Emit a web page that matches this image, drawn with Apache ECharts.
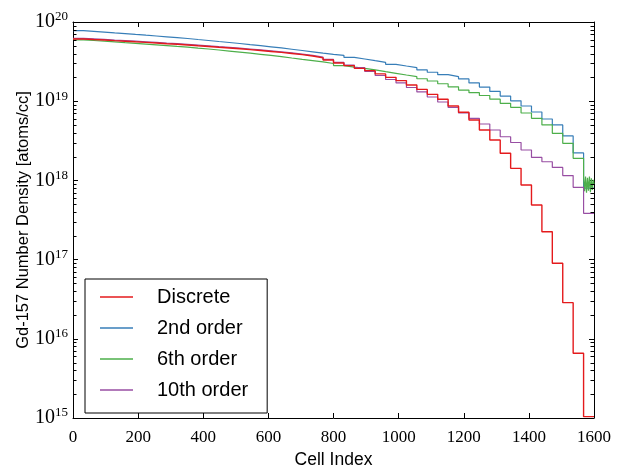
<!DOCTYPE html>
<html><head><meta charset="utf-8">
<script src="https://cdn.jsdelivr.net/npm/echarts@6/dist/echarts.min.js"></script>
<style>html,body{margin:0;padding:0;background:#fff}#c{width:621px;height:466px}</style>
</head><body><div id="c"></div>
<script>
// ---- data (one value per group of 32 cells) ----
const cellsPerGroup = 32;
const xTicks = [0, 200, 400, 600, 800, 1000, 1200, 1400, 1600];
const yDecades = [15, 16, 17, 18, 19, 20];
const seriesNames = ['Discrete', '2nd order', '6th order', '10th order'];

const discrete = [
  6.10e19, 6.01e19, 5.93e19, 5.82e19, 5.72e19, 5.62e19, 5.53e19, 5.43e19, 5.32e19, 5.23e19,
  5.12e19, 5.01e19, 4.91e19, 4.79e19, 4.70e19, 4.59e19, 4.48e19, 4.37e19, 4.25e19, 4.13e19,
  4.00e19, 3.87e19, 3.72e19, 3.53e19, 3.31e19, 3.04e19, 2.81e19, 2.60e19, 2.43e19, 2.21e19,
  2.00e19, 1.82e19, 1.60e19, 1.41e19, 1.22e19, 1.06e19, 8.70e18, 7.24e18, 5.79e18, 4.33e18,
  3.24e18, 2.20e18, 1.42e18, 8.75e17, 4.89e17, 2.25e17, 8.98e16, 2.86e16, 6.56e15, 1.04e15
];
const order2 = [
  7.77e19, 7.61e19, 7.46e19, 7.28e19, 7.14e19, 6.97e19, 6.81e19, 6.66e19, 6.50e19, 6.35e19,
  6.19e19, 6.01e19, 5.84e19, 5.67e19, 5.51e19, 5.35e19, 5.18e19, 5.02e19, 4.86e19, 4.70e19,
  4.53e19, 4.37e19, 4.20e19, 4.04e19, 3.91e19, 3.80e19, 3.58e19, 3.41e19, 3.25e19, 3.10e19,
  2.92e19, 2.78e19, 2.65e19, 2.48e19, 2.32e19, 2.16e19, 2.04e19, 1.91e19, 1.70e19, 1.51e19,
  1.33e19, 1.16e19, 1.01e19, 8.70e18, 7.31e18, 5.96e18, 5.01e18, 3.64e18, 2.22e18, 8.0e17
];
const order6 = [
  5.93e19, 5.84e19, 5.72e19, 5.61e19, 5.49e19, 5.38e19, 5.27e19, 5.15e19, 5.04e19, 4.92e19,
  4.81e19, 4.68e19, 4.56e19, 4.43e19, 4.30e19, 4.17e19, 4.04e19, 3.91e19, 3.78e19, 3.65e19,
  3.51e19, 3.38e19, 3.26e19, 3.13e19, 2.99e19, 2.82e19, 2.70e19, 2.59e19, 2.48e19, 2.36e19,
  2.25e19, 2.14e19, 2.04e19, 1.92e19, 1.80e19, 1.66e19, 1.52e19, 1.38e19, 1.28e19, 1.18e19,
  1.06e19, 9.41e18, 8.38e18, 7.10e18, 6.08e18, 5.01e18, 3.93e18, 2.94e18, 1.90e18
];
// last group of the 6th-order curve oscillates strongly (cells 1568..1600, read every 3 cells)
const order6TailCells = [1568, 1571, 1574, 1577, 1580, 1583, 1586, 1589, 1592, 1595, 1598, 1600];
const order6TailVals = [1.10e18, 7.3e17, 1.12e18, 7.0e17, 1.08e18, 7.4e17, 1.12e18, 7.1e17, 1.06e18, 7.6e17, 1.02e18, 9.0e17];
const order10 = [
  6.20e19, 6.12e19, 6.03e19, 5.92e19, 5.82e19, 5.72e19, 5.62e19, 5.52e19, 5.41e19, 5.32e19,
  5.21e19, 5.10e19, 4.99e19, 4.88e19, 4.78e19, 4.67e19, 4.56e19, 4.45e19, 4.33e19, 4.20e19,
  4.07e19, 3.94e19, 3.79e19, 3.60e19, 3.37e19, 3.10e19, 2.86e19, 2.65e19, 2.37e19, 2.11e19,
  1.88e19, 1.70e19, 1.49e19, 1.31e19, 1.13e19, 9.77e18, 8.33e18, 7.10e18, 6.08e18, 5.15e18,
  4.33e18, 3.56e18, 3.01e18, 2.42e18, 1.95e18, 1.72e18, 1.46e18, 1.15e18, 8.18e17, 3.84e17
];

const colors = ['#e41a1c', '#377eb8', '#4daf4a', '#984ea3'];

function stepData(vals) {
  const d = vals.map((v, k) => [k * cellsPerGroup, v]);
  d.push([vals.length * cellsPerGroup, vals[vals.length - 1]]);
  return d;
}
function stepDataWithTail(vals, tailCells, tailVals) {
  const d = vals.map((v, k) => [k * cellsPerGroup, v]);
  tailCells.forEach((c, i) => d.push([c, tailVals[i]]));
  return d;
}

const serif = 'Liberation Serif';
const sans = 'Liberation Sans';
const chart = echarts.init(document.getElementById('c'), null, {renderer: 'canvas'});

function lineSeries(name, data, color, z, w) {
  return {
    name: name, type: 'line', step: 'end', data: data,
    showSymbol: false, symbol: 'none', z: z, animation: false,
    lineStyle: {color: color, width: w}, itemStyle: {color: color}
  };
}

chart.setOption({
  animation: false,
  backgroundColor: '#fff',
  grid: {left: 73, right: 27, top: 22, bottom: 48, show: false, containLabel: false, outerBoundsMode: 'none'},
  legend: {
    data: seriesNames, orient: 'vertical', left: 85, top: 279,
    icon: 'rect', itemWidth: 33, itemHeight: 1.5, itemGap: 11,
    padding: [8, 19, 13, 15],
    borderColor: '#000', borderWidth: 1, borderRadius: 0, backgroundColor: '#fff',
    textStyle: {fontFamily: sans, fontSize: 20, color: '#000', padding: [0, 0, 0, 19], lineHeight: 20},
    selectedMode: false
  },
  xAxis: [{
    type: 'value', min: 0, max: 1600, interval: 200,
    name: 'Cell Index', nameLocation: 'middle', nameGap: 33,
    nameTextStyle: {fontFamily: sans, fontSize: 17.5, color: '#000'},
    axisLine: {show: true, onZero: false, lineStyle: {color: '#000', width: 1}},
    axisTick: {show: true, inside: true, length: 5, lineStyle: {color: '#000'}},
    axisLabel: {fontFamily: serif, fontSize: 17, color: '#000', margin: 11, formatter: v => String(v)},
    splitLine: {show: false}
  }, {
    type: 'value', min: 0, max: 1600, interval: 200, position: 'top',
    axisLine: {show: true, onZero: false, lineStyle: {color: '#000', width: 1}},
    axisTick: {show: true, inside: true, length: 5, lineStyle: {color: '#000'}},
    axisLabel: {show: false}, splitLine: {show: false}
  }],
  yAxis: [{
    type: 'log', logBase: 10, min: 1e15, max: 1e20,
    name: 'Gd-157 Number Density [atoms/cc]', nameLocation: 'middle', nameGap: 41,
    nameMoveOverlap: false,
    nameTextStyle: {fontFamily: sans, fontSize: 16.5, color: '#000'},
    axisLine: {show: true, onZero: false, lineStyle: {color: '#000', width: 1}},
    axisTick: {show: true, inside: true, length: 5, lineStyle: {color: '#000'}},
    axisLabel: {
      margin: 5,
      formatter: v => '{b|10}{s|' + Math.round(Math.log10(v)) + '}',
      rich: {
        b: {fontFamily: serif, fontSize: 20, color: '#000'},
        s: {fontFamily: serif, fontSize: 13, color: '#000', verticalAlign: 'bottom', padding: [0, 0, 10, 0]}
      }
    },
    splitLine: {show: false}
  }, {
    type: 'log', logBase: 10, min: 1e15, max: 1e20, position: 'right',
    axisLine: {show: true, onZero: false, lineStyle: {color: '#000', width: 1}},
    axisTick: {show: true, inside: true, length: 5, lineStyle: {color: '#000'}},
    axisLabel: {show: false}, splitLine: {show: false}
  }],
  series: [
    lineSeries(seriesNames[1], stepData(order2), colors[1], 2, 1.2),
    lineSeries(seriesNames[2], stepDataWithTail(order6, order6TailCells, order6TailVals), colors[2], 3, 1.2),
    lineSeries(seriesNames[3], stepData(order10), colors[3], 4, 1.2),
    lineSeries(seriesNames[0], stepData(discrete), colors[0], 5, 1.4)
  ]
});

// log-axis minor tick marks (2..9 x 10^n) on both sides, placed through the axis scale
const tickEls = [];
for (let i = 0; i < yDecades.length - 1; i++) {
  for (let m = 2; m <= 9; m++) {
    const v = m * Math.pow(10, yDecades[i]);
    const pl = chart.convertToPixel({xAxisIndex: 0, yAxisIndex: 0}, [0, v]);
    const pr = chart.convertToPixel({xAxisIndex: 0, yAxisIndex: 0}, [1600, v]);
    const y = Math.round(pl[1]) + 0.5;
    tickEls.push({type: 'line', silent: true, z: 100, shape: {x1: pl[0], y1: y, x2: pl[0] + 3.5, y2: y}, style: {stroke: '#000', lineWidth: 1}});
    tickEls.push({type: 'line', silent: true, z: 100, shape: {x1: pr[0] - 3.5, y1: y, x2: pr[0], y2: y}, style: {stroke: '#000', lineWidth: 1}});
  }
}
chart.setOption({graphic: tickEls});
</script></body></html>
